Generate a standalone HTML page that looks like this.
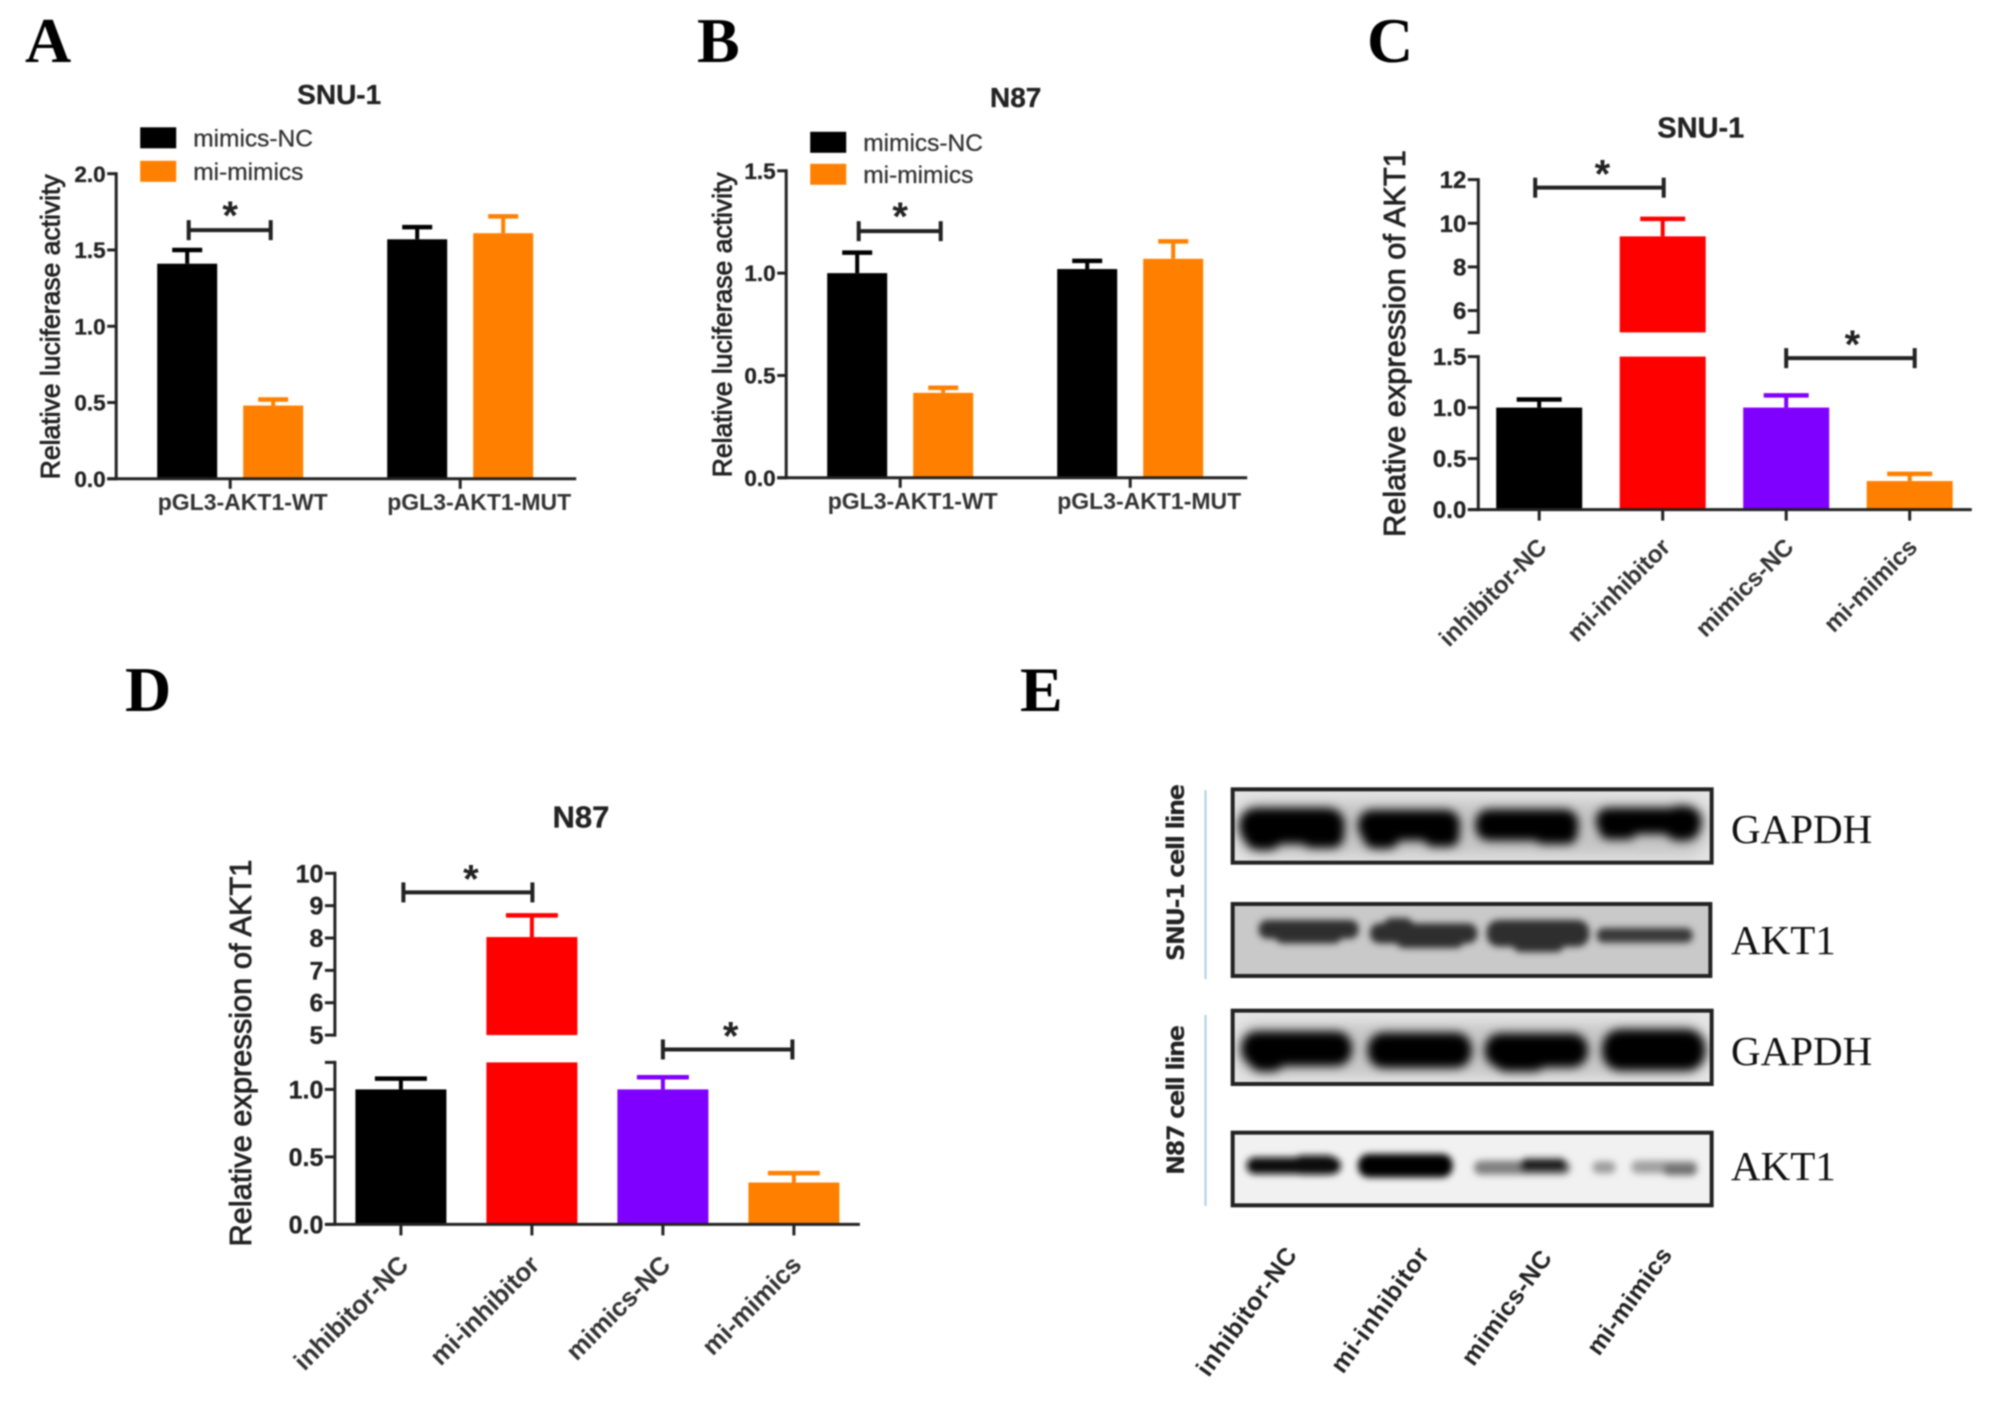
<!DOCTYPE html>
<html lang="en">
<head>
<meta charset="utf-8">
<title>AKT1 luciferase activity, expression and western blot</title>
<style>
html,body{margin:0;padding:0;background:#fff;}
#figure{display:block;width:2008px;height:1405px;filter:blur(0.7px);font-family:"Liberation Sans",Arial,sans-serif;}
.letter{font-family:"Liberation Serif",serif;font-weight:bold;font-size:64px;fill:#000;}
.blotname{font-family:"Liberation Serif",serif;font-size:41px;fill:#111;}
.cellline{font-family:"DejaVu Sans","Liberation Sans",sans-serif;font-weight:bold;font-size:24px;fill:#222;}
.blotlabel{font-family:"Liberation Sans",sans-serif;font-weight:bold;font-size:25px;fill:#222;}
</style>
</head>
<body>
<svg id="figure" xmlns="http://www.w3.org/2000/svg" width="2008" height="1405" viewBox="0 0 2008 1405">
<defs>
<filter id="bandBlur" x="-20%" y="-60%" width="140%" height="220%"><feGaussianBlur stdDeviation="14"/></filter>
<filter id="softBlur" x="-20%" y="-60%" width="140%" height="220%"><feGaussianBlur stdDeviation="10"/></filter>
<filter id="haloBlur" x="-20%" y="-60%" width="140%" height="220%"><feGaussianBlur stdDeviation="22"/></filter>
<clipPath id="clip1"><rect x="38" y="58" width="1437" height="220"/></clipPath>
<clipPath id="clip2"><rect x="38" y="402" width="1433" height="216"/></clipPath>
<clipPath id="clip3"><rect x="38" y="32" width="1437" height="220"/></clipPath>
<clipPath id="clip4"><rect x="38" y="398" width="1437" height="218"/></clipPath>
</defs>
<rect width="2008" height="1405" fill="#fff"/>
<text class="letter" x="25" y="62">A</text>
<text class="letter" x="697" y="62">B</text>
<text class="letter" x="1367" y="62">C</text>
<text class="letter" x="125" y="711">D</text>
<text class="letter" x="1020" y="711">E</text>

<g id="panel-a" transform="translate(-1.8,-2.2)"></g>
<g id="panel-b" transform="translate(-1.8,-2.2)"></g>
<g id="panel-c" transform="translate(-2.2,-2.4)"></g>
<g id="panel-d" transform="translate(-2.6,-2.6)"></g>

<g>
  <g transform="translate(1220,770) scale(0.33333)">
    <rect x="38" y="58" width="1437" height="220" fill="#e4e4e4"/>
    <g clip-path="url(#clip1)">
      <rect x="50" y="95" width="1410" height="160" rx="60" fill="#c4c4c4" filter="url(#haloBlur)"/>
      <g filter="url(#bandBlur)" fill="#000">
        <rect x="58" y="114" width="316" height="108" rx="50"/>
        <rect x="70" y="140" width="120" height="100" rx="46"/>
        <rect x="240" y="150" width="132" height="84" rx="36"/>
        <rect x="414" y="120" width="306" height="92" rx="42"/>
        <rect x="428" y="150" width="112" height="86" rx="38"/>
        <rect x="610" y="160" width="108" height="70" rx="30"/>
        <rect x="766" y="118" width="309" height="94" rx="42"/>
        <rect x="940" y="150" width="132" height="72" rx="30"/>
        <rect x="1128" y="114" width="316" height="78" rx="36"/>
        <rect x="1138" y="150" width="112" height="58" rx="26"/>
        <rect x="1330" y="108" width="112" height="104" rx="46"/>
      </g>
    </g>
    <rect x="38" y="58" width="1437" height="220" fill="none" stroke="#222" stroke-width="12"/>
    <rect x="38" y="402" width="1433" height="216" fill="#c9c9c9"/>
    <g clip-path="url(#clip2)" filter="url(#softBlur)" fill="#2e2e2e">
      <rect x="116" y="450" width="300" height="56" rx="26"/>
      <rect x="165" y="470" width="200" height="50" rx="22"/>
      <rect x="450" y="460" width="322" height="60" rx="28"/>
      <rect x="490" y="444" width="90" height="52" rx="24"/>
      <rect x="530" y="490" width="200" height="44" rx="20"/>
      <rect x="800" y="450" width="308" height="80" rx="36"/>
      <rect x="880" y="500" width="150" height="46" rx="20"/>
      <rect x="1130" y="474" width="288" height="44" rx="20" fill="#383838"/>
    </g>
    <rect x="38" y="402" width="1433" height="216" fill="none" stroke="#222" stroke-width="12"/>
  </g>
  <g transform="translate(1220,1000) scale(0.33333)">
    <rect x="38" y="32" width="1437" height="220" fill="#e6e6e6"/>
    <g clip-path="url(#clip3)">
      <rect x="50" y="70" width="1410" height="160" rx="60" fill="#c6c6c6" filter="url(#haloBlur)"/>
      <g filter="url(#bandBlur)" fill="#000">
        <rect x="64" y="94" width="332" height="104" rx="48"/>
        <rect x="85" y="130" width="110" height="84" rx="38"/>
        <rect x="443" y="98" width="312" height="106" rx="48"/>
        <rect x="794" y="100" width="310" height="102" rx="48"/>
        <rect x="820" y="130" width="160" height="84" rx="38"/>
        <rect x="1146" y="88" width="310" height="124" rx="56"/>
      </g>
    </g>
    <rect x="38" y="32" width="1437" height="220" fill="none" stroke="#222" stroke-width="12"/>
    <rect x="38" y="398" width="1437" height="218" fill="#f1f1f1"/>
    <g clip-path="url(#clip4)" filter="url(#softBlur)">
      <rect x="80" y="472" width="282" height="50" rx="24" fill="#101010"/>
      <rect x="220" y="466" width="130" height="58" rx="26" fill="#080808"/>
      <rect x="414" y="462" width="284" height="70" rx="32" fill="#000"/>
      <rect x="762" y="482" width="289" height="42" rx="20" fill="#808080"/>
      <rect x="900" y="476" width="140" height="40" rx="18" fill="#1c1c1c"/>
      <rect x="1118" y="484" width="68" height="36" rx="16" fill="#9c9c9c"/>
      <rect x="1234" y="482" width="198" height="38" rx="18" fill="#a0a0a0"/>
      <rect x="1330" y="492" width="100" height="34" rx="16" fill="#707070"/>
    </g>
    <rect x="38" y="398" width="1437" height="218" fill="none" stroke="#222" stroke-width="12"/>
  </g>
  <text class="blotname" x="1731" y="843">GAPDH</text>
  <text class="blotname" x="1731" y="954">AKT1</text>
  <text class="blotname" x="1731" y="1065">GAPDH</text>
  <text class="blotname" x="1731" y="1180">AKT1</text>
  <line x1="1205.5" y1="790" x2="1205.5" y2="979" stroke="#a9d0ea" stroke-width="2"/>
  <line x1="1205.5" y1="1015" x2="1205.5" y2="1206" stroke="#a9d0ea" stroke-width="2"/>
  <text class="cellline" transform="translate(1184,872.5) rotate(-90)" text-anchor="middle" textLength="177">SNU-1 cell line</text>
  <text class="cellline" transform="translate(1184,1100) rotate(-90)" text-anchor="middle" textLength="150">N87 cell line</text>
  <text class="blotlabel" transform="translate(1298,1255) rotate(-54)" text-anchor="end" textLength="152">inhibitor-NC</text>
  <text class="blotlabel" transform="translate(1430,1255) rotate(-54)" text-anchor="end" textLength="148">mi-inhibitor</text>
  <text class="blotlabel" transform="translate(1553,1258) rotate(-54)" text-anchor="end" textLength="135">mimics-NC</text>
  <text class="blotlabel" transform="translate(1673,1255) rotate(-54)" text-anchor="end" textLength="126">mi-mimics</text>
</g>
</svg>

<script>
// ---- Panel A data ----
const panelACategories = ['pGL3-AKT1-WT', 'pGL3-AKT1-MUT'];
const panelASeriesNames = ['mimics-NC', 'mi-mimics'];
const panelAControl = [1.41, 1.57];
const panelAControlErr = [0.09, 0.08];
const panelATreated = [0.48, 1.61];
const panelATreatedErr = [0.04, 0.11];
const panelATicks = [0, 0.5, 1, 1.5, 2];
const panelATickLabels = ['0.0', '0.5', '1.0', '1.5', '2.0'];
const panelABracketLevel = 1.63;

// ---- Panel B data ----
const panelBCategories = ['pGL3-AKT1-WT', 'pGL3-AKT1-MUT'];
const panelBSeriesNames = ['mimics-NC', 'mi-mimics'];
const panelBControl = [1.0, 1.02];
const panelBControlErr = [0.10, 0.04];
const panelBTreated = [0.415, 1.07];
const panelBTreatedErr = [0.025, 0.085];
const panelBTicks = [0, 0.5, 1, 1.5];
const panelBTickLabels = ['0.0', '0.5', '1.0', '1.5'];
const panelBBracketLevel = 1.205;

// ---- Panel C data ----
const panelCCategories = ['inhibitor-NC', 'mi-inhibitor', 'mimics-NC', 'mi-mimics'];
const panelCValues = [1.0, 9.4, 1.0, 0.28];
const panelCErrors = [0.08, 0.8, 0.12, 0.07];
const panelCLowerTicks = [0, 0.5, 1, 1.5];
const panelCLowerLabels = ['0.0', '0.5', '1.0', '1.5'];
const panelCUpperTicks = [5, 6, 8, 10, 12];
const panelCUpperLabels = ['', '6', '8', '10', '12'];
const panelCBracketLevels = [11.63, 1.485];

// ---- Panel D data ----
const panelDCategories = ['inhibitor-NC', 'mi-inhibitor', 'mimics-NC', 'mi-mimics'];
const panelDValues = [1.0, 8.03, 1.0, 0.31];
const panelDErrors = [0.08, 0.67, 0.09, 0.07];
const panelDLowerTicks = [0, 0.5, 1, 1.2];
const panelDLowerLabels = ['0.0', '0.5', '1.0', ''];
const panelDUpperTicks = [5, 6, 7, 8, 9, 10];
const panelDUpperLabels = ['5', '6', '7', '8', '9', '10'];
const panelDBracketLevels = [9.41, 1.296];

const barColors = ['#000000', '#ff0000', '#7f00ff', '#ff8000'];
const groupColors = ['#000000', '#ff8000'];

const NS = 'http://www.w3.org/2000/svg';
const INK = '#222';

function linear(d0, d1, p0, p1) {
  return function (v) { return p0 + (v - d0) * (p1 - p0) / (d1 - d0); };
}
function brokenScale(lower, upper, breakValue) {
  return function (v) { return v < breakValue ? lower(v) : upper(v); };
}
function make(parent, tag, attrs, text) {
  const el = document.createElementNS(NS, tag);
  for (const k in attrs) el.setAttribute(k, attrs[k]);
  if (text !== undefined) el.textContent = text;
  parent.appendChild(el);
  return el;
}
function line(parent, x1, y1, x2, y2, color, width, name) {
  const el = make(parent, 'line', { x1: x1, y1: y1, x2: x2, y2: y2, stroke: color, 'stroke-width': width });
  
  
  return el;
}
function label(parent, x, y, content, opts, name) {
  const attrs = {
    x: x, y: y,
    'font-family': '"Liberation Sans", Arial, sans-serif',
    'font-size': opts.size,
    'font-weight': opts.weight || 'bold',
    fill: opts.fill || INK,
    'text-anchor': opts.anchor || 'middle'
  };
  if (opts.transform) attrs.transform = opts.transform;
  if (opts.length) attrs.textLength = opts.length;
  if (opts.stroke) { attrs.stroke = opts.fill || INK; attrs['stroke-width'] = opts.stroke; }
  const el = make(parent, 'text', attrs, content);
  
  
  return el;
}
function rectMark(parent, x, y, w, h, color, name) {
  const el = make(parent, 'rect', { x: x, y: y, width: w, height: h, fill: color });
  
  
  return el;
}
function errorBar(parent, cx, yValue, yTop, capW, color, name) {
  line(parent, cx, yValue, cx, yTop, color, 4, name + '-stem');
  line(parent, cx - capW / 2, yTop, cx + capW / 2, yTop, color, 4.5, name + '-cap');
}
function yTicks(parent, axisX, len, ticks, labels, yScale, size, name) {
  ticks.forEach(function (t, i) {
    const y = yScale(t);
    line(parent, axisX - len, y, axisX, y, INK, 3, name + '-tick-' + t);
    if (labels[i]) label(parent, axisX - len - 1.5, y + size * 0.36, labels[i], { size: size, anchor: 'end', stroke: 0.3 }, name + '-tick-label-' + t);
  });
}
function bracket(parent, x1, x2, y, capH, starX, starY, name) {
  line(parent, x1, y, x2, y, INK, 4, name + '-bar');
  line(parent, x1, y - capH, x1, y + capH, INK, 4, name + '-left-end');
  line(parent, x2, y - capH, x2, y + capH, INK, 4, name + '-right-end');
  label(parent, starX, starY + 19, '*', { size: 40 }, name + '-star');
}

function drawGrouped(id, g) {
  const root = document.getElementById(id);
  const y = linear(0, g.dMax, g.y0, g.yTop);
  const groupX = function (i) { return g.x0 + i * g.step; };
  const barX = function (i, s) { return groupX(i) + (s === 0 ? -g.offset : g.offset); };
  g.series.forEach(function (values, s) {
    values.forEach(function (v, i) {
      const cx = barX(i, s);
      errorBar(root, cx, y(v), y(v + g.errors[s][i]), 30, groupColors[s], id + '-error-' + s + '-' + i);
      rectMark(root, cx - 30, y(v), 60, g.y0 - y(v), groupColors[s], id + '-bar-' + g.names[s] + '-' + i);
    });
  });
  line(root, g.axisX, g.yTop - 1.5, g.axisX, g.y0 + 1.5, INK, 3, id + '-y-axis');
  line(root, g.axisX - 9, g.y0, g.xEnd, g.y0, INK, 3, id + '-x-axis');
  yTicks(root, g.axisX, 9, g.ticks, g.tickLabels, y, 22.5, id);
  g.categories.forEach(function (c, i) {
    line(root, groupX(i), g.y0, groupX(i), g.y0 + 10, INK, 3, id + '-x-tick-' + i);
    label(root, groupX(i) + (i ? 19 : 12.5), g.y0 + 31, c, { size: 23, fill: '#333' }, id + '-x-label-' + i);
  });
  label(root, g.titleX, g.titleY + 10, g.title, { size: 28, stroke: 0.3 }, id + '-title');
  label(root, 0, 0, 'Relative luciferase activity', { size: 26.5, weight: 'normal', stroke: 0.8, transform: 'translate(' + g.yTitleX + ',' + g.yTitleY + ') rotate(-90)' }, id + '-y-title');
  g.names.forEach(function (n, s) {
    rectMark(root, g.legendX, g.legendY[s] - 10.5, 36, 21, groupColors[s], id + '-legend-swatch-' + n);
    label(root, g.legendX + 53, g.legendY[s] + 8.5, n, { size: 24.5, weight: 'normal', fill: '#333', anchor: 'start', stroke: 0.3 }, id + '-legend-' + n);
  });
  const by = y(g.bracketLevel);
  bracket(root, barX(0, 0) + 1.5, barX(0, 1) - 2.5, by, 10, groupX(0), by - 20, id + '-significance');
}

function drawBroken(id, g) {
  const root = document.getElementById(id);
  const lower = linear(0, g.lowerRef, g.y0, g.lowerRefY);
  const upper = linear(g.breakUpper, g.upperMax, g.upperBottom, g.upperTop);
  const y = brokenScale(lower, upper, g.breakUpper);
  const x = function (i) { return g.x0 + i * g.step; };
  const lowerTop = g.lowerTicks[g.lowerTicks.length - 1];
  g.values.forEach(function (v, i) {
    const cx = x(i);
    const c = barColors[i];
    errorBar(root, cx, y(v), y(v + g.errors[i]), g.capW, c, id + '-error-' + i);
    if (v >= g.breakUpper) {
      rectMark(root, cx - g.barW / 2, lower(lowerTop), g.barW, g.y0 - lower(lowerTop), c, id + '-bar-lower-' + g.categories[i]);
      rectMark(root, cx - g.barW / 2, y(v), g.barW, g.upperBottom - y(v), c, id + '-bar-upper-' + g.categories[i]);
    } else {
      rectMark(root, cx - g.barW / 2, y(v), g.barW, g.y0 - y(v), c, id + '-bar-' + g.categories[i]);
    }
  });
  line(root, g.axisX, g.upperTop - 1.5, g.axisX, g.upperBottom + 1.5, INK, 3, id + '-y-axis-upper');
  line(root, g.axisX, lower(lowerTop) - 1.5, g.axisX, g.y0 + 1.5, INK, 3, id + '-y-axis-lower');
  line(root, g.axisX - g.tickLen, g.y0, g.xEnd, g.y0, INK, 3, id + '-x-axis');
  yTicks(root, g.axisX, g.tickLen, g.upperTicks, g.upperLabels, y, g.tickSize, id + '-upper');
  yTicks(root, g.axisX, g.tickLen, g.lowerTicks, g.lowerLabels, lower, g.tickSize, id + '-lower');
  g.categories.forEach(function (c, i) {
    line(root, x(i), g.y0, x(i), g.y0 + 11, INK, 3, id + '-x-tick-' + i);
    const ax = x(i) + g.labelDx;
    const ay = g.y0 + g.labelDy;
    label(root, ax, ay, c, { size: g.labelSize, fill: '#333', anchor: 'end', transform: 'rotate(-45 ' + ax + ' ' + ay + ')' }, id + '-x-label-' + c);
  });
  label(root, g.titleX, g.titleY + g.titleSize * 0.36, g.title, { size: g.titleSize, stroke: 0.3 }, id + '-title');
  label(root, 0, 0, 'Relative expression of AKT1', { size: 30.8, weight: 'normal', stroke: 0.8, transform: 'translate(' + g.yTitleX + ',' + g.yTitleY + ') rotate(-90)' }, id + '-y-title');
  g.brackets.forEach(function (b, k) {
    const by = y(g.bracketLevels[k]);
    const x1 = x(b[0]) + b[2];
    const x2 = x(b[1]) + b[3];
    bracket(root, x1, x2, by, 10, (x1 + x2) / 2 + b[4], by - 19, id + '-significance-' + k);
  });
}

drawGrouped('panel-a', {
  categories: panelACategories, names: panelASeriesNames,
  series: [panelAControl, panelATreated], errors: [panelAControlErr, panelATreatedErr],
  ticks: panelATicks, tickLabels: panelATickLabels, bracketLevel: panelABracketLevel,
  dMax: 2, y0: 481, yTop: 175.9, axisX: 118, xEnd: 578, x0: 232, step: 230, offset: 43,
  title: 'SNU-1', titleX: 341, titleY: 96, yTitleX: 61.5, yTitleY: 329,
  legendX: 142, legendY: [140, 173.5]
});
drawGrouped('panel-b', {
  categories: panelBCategories, names: panelBSeriesNames,
  series: [panelBControl, panelBTreated], errors: [panelBControlErr, panelBTreatedErr],
  ticks: panelBTicks, tickLabels: panelBTickLabels, bracketLevel: panelBBracketLevel,
  dMax: 1.5, y0: 480, yTop: 173, axisX: 788, xEnd: 1249, x0: 902, step: 230, offset: 43,
  title: 'N87', titleX: 1017.5, titleY: 99.4, yTitleX: 733.5, yTitleY: 327,
  legendX: 812, legendY: [144.5, 176.5]
});
drawBroken('panel-c', {
  categories: panelCCategories, values: panelCValues, errors: panelCErrors,
  lowerTicks: panelCLowerTicks, lowerLabels: panelCLowerLabels,
  upperTicks: panelCUpperTicks, upperLabels: panelCUpperLabels, bracketLevels: panelCBracketLevels,
  brackets: [[0, 1, -4, 1, 3], [2, 3, 0, 5, 2]],
  lowerRef: 1.5, lowerRefY: 359, y0: 512, breakUpper: 5, upperMax: 12, upperBottom: 334.8, upperTop: 182,
  axisX: 1480.5, xEnd: 1974, tickLen: 10.5, tickSize: 24,
  x0: 1541.4, step: 123.5, barW: 86, capW: 45,
  labelDx: 9, labelDy: 39, labelSize: 24.3,
  title: 'SNU-1', titleX: 1703, titleY: 129.5, titleSize: 29, yTitleX: 1407, yTitleY: 346
});
drawBroken('panel-d', {
  categories: panelDCategories, values: panelDValues, errors: panelDErrors,
  lowerTicks: panelDLowerTicks, lowerLabels: panelDLowerLabels,
  upperTicks: panelDUpperTicks, upperLabels: panelDUpperLabels, bracketLevels: panelDBracketLevels,
  brackets: [[0, 1, 2.5, 0.5, 3], [2, 3, 0, -1.5, 3]],
  lowerRef: 1, lowerRefY: 1092, y0: 1227, breakUpper: 5, upperMax: 10, upperBottom: 1037.7, upperTop: 875.9,
  axisX: 337.5, xEnd: 862.5, tickLen: 10, tickSize: 25,
  x0: 403.5, step: 131, barW: 91, capW: 52,
  labelDx: 9, labelDy: 42, labelSize: 25.8,
  title: 'N87', titleX: 583.5, titleY: 819, titleSize: 31, yTitleX: 253.5, yTitleY: 1055.6
});
</script>
</body>
</html>
